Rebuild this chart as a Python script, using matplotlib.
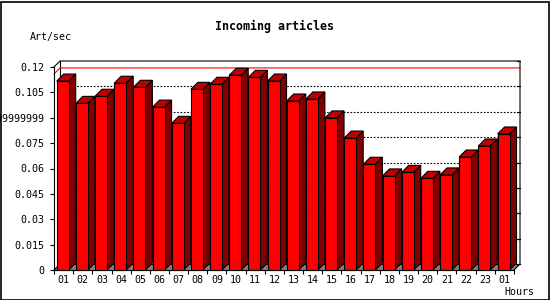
import matplotlib
matplotlib.use("Agg")
import matplotlib.pyplot as plt
from matplotlib.patches import Polygon, Rectangle

# ---- data ----
hours = ["01", "02", "03", "04", "05", "06", "07", "08", "09", "10", "11", "12",
         "13", "14", "15", "16", "17", "18", "19", "20", "21", "22", "23", "01"]
values = [0.1117, 0.0985, 0.1027, 0.1104, 0.1080, 0.0963, 0.0867, 0.1068,
          0.1098, 0.1151, 0.1139, 0.1117, 0.0999, 0.1011, 0.0899, 0.0780,
          0.0625, 0.0556, 0.0577, 0.0542, 0.0562, 0.0668, 0.0733, 0.0804]
ytick_values = [0, 0.015, 0.03, 0.045, 0.06, 0.075, 0.09, 0.105, 0.12]
ytick_labels = ["0", "0.015", "0.03", "0.045", "0.06", "0.075", "0.0899999999", "0.105", "0.12"]
max_line = 0.1159
title = "Incoming articles"
ylabel = "Art/sec"
xlabel = "Hours"

W, H = 550, 300
fig = plt.figure(figsize=(W / 100, H / 100), dpi=100)
fig.patch.set_facecolor("white")

# front plane of plot: x 54..514 px, y 270..67 px
X0, X1, Y0, Y1 = 54, 514, 270, 67
ax = fig.add_axes([X0 / W, (H - Y0) / H, (X1 - X0) / W, (Y0 - Y1) / H])
n = len(values)
ymax = 0.12
ax.set_xlim(0, n)
ax.set_ylim(0, ymax)
ax.patch.set_alpha(0)
for s in ax.spines.values():
    s.set_visible(False)

pxx = n / (X1 - X0)          # data units per px (x)
pxy = ymax / (Y0 - Y1)       # data units per px (y)
fdx, fdy = 6 * pxx, 6 * pxy  # frame depth
bdx, bdy = 7 * pxx, 7 * pxy  # bar depth

lw = 0.8
black = "black"

# floor (grey)
ax.add_patch(Polygon([(0, 0), (fdx, fdy), (n + fdx, fdy), (n, 0)], closed=True,
                     facecolor="#808080", edgecolor="none", clip_on=False, zorder=1))

# back grid lines (dotted)
for v in ytick_values[1:-1]:
    ax.plot([fdx, n + fdx], [v + fdy, v + fdy], color=black, lw=lw,
            linestyle=(0, (1.5, 1.5)), clip_on=False, zorder=1)
# right back ticks
for v in ytick_values:
    ax.plot([n + fdx - 3 * pxx, n + fdx], [v + fdy, v + fdy], color=black, lw=lw,
            clip_on=False, zorder=1)

# max line (red) on left wall + back wall
ax.plot([0, fdx, n + fdx], [max_line, max_line + fdy, max_line + fdy],
        color="#ff0000", lw=lw, clip_on=False, zorder=1.5)

# frame
ax.plot([0, fdx, n + fdx, n + fdx, n], [ymax, ymax + fdy, ymax + fdy, fdy, 0],
        color=black, lw=lw, clip_on=False, zorder=1.5)
ax.plot([fdx, fdx, n + fdx], [ymax + fdy, fdy, fdy], color=black, lw=lw,
        clip_on=False, zorder=1.2)
ax.plot([0, fdx], [0, fdy], color=black, lw=lw, clip_on=False, zorder=1.2)

# bars
off = 2.7 * pxx
bw = 12 * pxx
for i, v in enumerate(values):
    x0 = i + off
    z = 2 + i * 0.01
    ax.add_patch(Polygon([(x0 + bw, 0), (x0 + bw, v), (x0 + bw + bdx, v + bdy), (x0 + bw + bdx, bdy)],
                         closed=True, facecolor="#800000", edgecolor=black, lw=lw,
                         clip_on=False, zorder=z))
    ax.add_patch(Polygon([(x0, v), (x0 + bw, v), (x0 + bw + bdx, v + bdy), (x0 + bdx, v + bdy)],
                         closed=True, facecolor="#c00000", edgecolor=black, lw=lw,
                         clip_on=False, zorder=z))
    ax.add_patch(Rectangle((x0, 0), bw, v, facecolor="#ff0000", edgecolor=black, lw=lw,
                           clip_on=False, zorder=z + 0.005))

# front axes
ax.plot([0, 0], [0, ymax], color=black, lw=lw, clip_on=False, zorder=5)
ax.plot([0, n], [0, 0], color=black, lw=lw, clip_on=False, zorder=5)

mono = "DejaVu Sans Mono"
ax.set_yticks(ytick_values)
ax.set_yticklabels(ytick_labels, fontfamily=mono, fontsize=7.2)
ax.tick_params(axis="y", length=3, width=lw, pad=4, direction="out")
ax.set_xticks(range(n + 1))
ax.set_xticklabels([""] * (n + 1))
ax.tick_params(axis="x", length=3, width=lw, direction="out")
for i, h in enumerate(hours):
    ax.text(i + 0.5, -10 * pxy, h, ha="center", va="center", fontfamily=mono,
            fontsize=7.2, clip_on=False)

fig.text(274.5 / W, 1 - 26.7 / H, title, ha="center", va="center", fontfamily=mono,
         fontweight="bold", fontsize=8.4)
fig.text(30 / W, 1 - 37 / H, ylabel, ha="left", va="center", fontfamily=mono, fontsize=7.2)
fig.text(534 / W, 1 - 292 / H, xlabel, ha="right", va="center", fontfamily=mono, fontsize=7.2)

# outer border
fig.patches.append(Rectangle((0.5 / W, 0.5 / H), (W - 2) / W, (H - 2) / H, transform=fig.transFigure,
                             fill=False, edgecolor=black, lw=1.2))

fig.savefig("out.png", dpi=100)
